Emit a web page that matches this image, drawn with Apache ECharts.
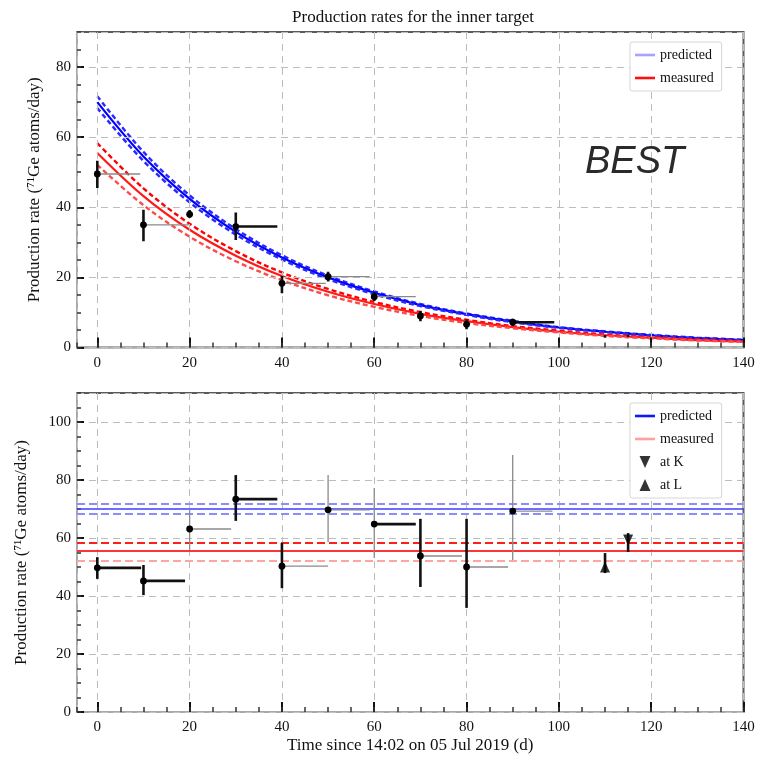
<!DOCTYPE html>
<html>
<head>
<meta charset="utf-8">
<script src="https://cdn.jsdelivr.net/npm/echarts@6/dist/echarts.min.js"></script>
<style>
html, body { margin: 0; padding: 0; background: #fff; }
#chart { width: 758px; height: 758px; }
</style>
</head>
<body>
<div id="chart"></div>
<script>
// Decay curves of the production rate (atoms/day) sampled every 10 days
const curveDays = [0, 10, 20, 30, 40, 50, 60, 70, 80, 90, 100, 110, 120, 130, 140];
const predictedUpper = [71.7, 55.8, 43.4, 33.8, 26.3, 20.5, 16.0, 12.4, 9.7, 7.6, 5.8, 4.6, 3.6, 2.8, 2.2];
const predictedMid   = [70.0, 54.5, 42.4, 33.0, 25.7, 20.0, 15.6, 12.1, 9.5, 7.4, 5.7, 4.5, 3.5, 2.7, 2.1];
const predictedLower = [68.3, 53.2, 41.4, 32.2, 25.1, 19.5, 15.2, 11.8, 9.3, 7.2, 5.6, 4.4, 3.4, 2.6, 2.0];
const measuredUpper  = [58.3, 45.4, 35.3, 27.5, 21.4, 16.7, 13.0, 10.1, 7.9, 6.1, 4.8, 3.7, 2.9, 2.3, 1.8];
const measuredMid    = [55.5, 43.2, 33.6, 26.2, 20.4, 15.9, 12.4, 9.6, 7.5, 5.8, 4.5, 3.5, 2.8, 2.1, 1.7];
const measuredLower  = [52.1, 40.6, 31.6, 24.6, 19.2, 14.9, 11.6, 9.0, 7.0, 5.5, 4.3, 3.3, 2.6, 2.0, 1.6];

// Extractions: start day, end of exposure, rates
const extractionDay = [0, 10, 20, 30, 40, 50, 60, 70, 80, 90, 110, 115];
const exposureEnd   = [9.5, 19, 29, 39, 50, 59, 69, 79, 89, 98.6, 110, 115];

// Upper panel: rate at the extraction time
const rateAtTime = [49.5, 35.0, 38.0, 34.5, 18.3, 20.2, 14.5, 9.0, 6.6, 7.2, 3.2, 3.3];
const rateAtTimeLo = [45.5, 30.3, 37.0, 30.7, 15.5, 18.8, 13.3, 7.5, 5.2, 6.2, 2.8, 3.0];
const rateAtTimeHi = [53.3, 39.3, 39.2, 38.5, 20.5, 21.6, 15.7, 10.5, 8.0, 8.2, 3.6, 3.6];
const rateAtTimeBinEnd = [9.3, 19.8, 20, 39, 49.5, 59, 69, 70, 80, 99, 110, 115];

// Lower panel: rate referred back to day 0
const rateAtStart   = [49.7, 45.2, 63.1, 73.4, 50.3, 69.7, 64.8, 53.8, 50.0, 69.3, 50.0, 59.3];
const rateAtStartLo = [45.9, 40.3, 55.9, 65.9, 42.7, 58.6, 53.1, 43.1, 35.9, 52.4, 47.9, 55.2];
const rateAtStartHi = [53.4, 50.7, 69.6, 81.7, 58.3, 81.7, 77.2, 66.6, 66.6, 88.6, 54.8, 61.7];

// Constant levels at day 0
const predictedLevel = [71.7, 70.0, 68.3];
const measuredLevel  = [58.3, 55.5, 52.1];

// Which extractions were taken at K and at L
const extractionsK = [115];
const extractionsL = [110];

// Drawing weight of each error bar: 1 = heavy black, 0 = light grey
const upperVBold = [1, 1, 1, 1, 1, 1, 1, 1, 1, 1, 1, 1];
const upperHBold = [0, 0, 1, 1, 0, 0, 0, 0, 0, 1, 1, 1];
const lowerVBold = [1, 1, 0, 1, 1, 0, 0, 1, 1, 0, 1, 1];
const lowerHBold = [1, 1, 0, 1, 0, 0, 1, 0, 0, 0, 1, 1];

const SERIF = '"Liberation Serif", "DejaVu Serif", serif';

function pairs(xs, ys) { return xs.map((x, i) => [x, ys[i]]); }

function errorRows(rate, lo, hi, binEnd) {
  return extractionDay.map((d, i) => [d, rate[i], binEnd[i], lo[i], hi[i]]);
}

function errorRenderer(vBold, hBold) {
  return function (params, api) {
    const i = params.dataIndex;
    const x = api.value(0), y = api.value(1), xe = api.value(2), lo = api.value(3), hi = api.value(4);
    const p = api.coord([x, y]);
    const pe = api.coord([xe, y]);
    const pl = api.coord([x, lo]);
    const ph = api.coord([x, hi]);
    const heavy = { stroke: '#111', lineWidth: 2.6 };
    const light = { stroke: '#8a8a8a', lineWidth: 1.3 };
    const children = [];
    if (xe > x) {
      children.push({ type: 'line', shape: { x1: p[0], y1: p[1], x2: pe[0], y2: pe[1] },
        style: hBold[i] ? heavy : light });
    }
    children.push({ type: 'line', shape: { x1: pl[0], y1: pl[1], x2: ph[0], y2: ph[1] },
      style: vBold[i] ? heavy : light });
    const day = extractionDay[i];
    if (extractionsK.indexOf(day) < 0 && extractionsL.indexOf(day) < 0) {
      children.push({ type: 'circle', shape: { cx: p[0], cy: p[1], r: 3.4 }, style: { fill: '#000' } });
    }
    return { type: 'group', children };
  };
}

function pick(days, values) {
  return days.map(d => [d, values[extractionDay.indexOf(d)]]);
}

const X_MIN = -4.4, X_MAX = 140;

function xAxes(grid, withLabels) {
  return [
    {
      type: 'value', gridIndex: grid, position: 'bottom', min: X_MIN, max: X_MAX,
      splitNumber: 7, minInterval: 20, maxInterval: 20,
      axisLine: { show: true, onZero: false, lineStyle: { color: '#c4c4c4', width: 1.5 } },
      axisTick: { show: true, inside: true, length: 10, lineStyle: { color: '#111', width: 2 } },
      axisLabel: {
        show: true, showMinLabel: false, margin: 8, fontFamily: SERIF, fontSize: 15, color: '#111',
        formatter: v => (Math.abs(v % 20) < 1e-6 ? String(v) : '')
      },
      splitLine: { show: true, lineStyle: { color: '#bdbdbd', width: 1, type: [7, 5] } },
      name: withLabels ? 'Time since 14:02 on 05 Jul 2019 (d)' : '',
      nameLocation: 'middle', nameGap: 25,
      nameTextStyle: { fontFamily: SERIF, fontSize: 17, color: '#111' },
      z: 3
    },
    {
      type: 'value', gridIndex: grid, position: 'bottom', min: X_MIN, max: X_MAX,
      splitNumber: 29, minInterval: 5, maxInterval: 5,
      axisLine: { show: false, onZero: false },
      axisTick: { show: true, inside: true, length: 5, lineStyle: { color: '#333', width: 1.5 } },
      axisLabel: { show: false },
      splitLine: { show: false },
      z: 3
    }
  ];
}

function yAxes(grid, max, nameGap) {
  return [
    {
      type: 'value', gridIndex: grid, position: 'left', min: 0, max: max, interval: 20,
      axisLine: { show: true, onZero: false, lineStyle: { color: '#c4c4c4', width: 1.5 } },
      axisTick: { show: true, inside: true, length: 7, lineStyle: { color: '#111', width: 2 } },
      axisLabel: { show: true, showMaxLabel: false, margin: 6, fontFamily: SERIF, fontSize: 15, color: '#111' },
      splitLine: { show: true, lineStyle: { color: '#bdbdbd', width: 1, type: [7, 5] } },
      name: 'Production rate (\u2077\u00b9Ge atoms/day)',
      nameLocation: 'middle', nameGap: nameGap, nameRotate: 90,
      nameTextStyle: { fontFamily: SERIF, fontSize: 17, color: '#111' },
      z: 3
    },
    {
      type: 'value', gridIndex: grid, position: 'left', min: 0, max: max, interval: 5,
      axisLine: { show: false, onZero: false },
      axisTick: { show: true, inside: true, length: 4, lineStyle: { color: '#333', width: 1.5 } },
      axisLabel: { show: false },
      splitLine: { show: false },
      z: 3
    }
  ];
}

function curve(name, values, color, dashed, width) {
  return {
    type: 'line', name: name, xAxisIndex: 0, yAxisIndex: 0,
    data: pairs(curveDays, values), smooth: 0.35,
    showSymbol: false, symbol: 'none', silent: true,
    lineStyle: { color: color, width: width, type: dashed ? [5, 3] : 'solid' },
    itemStyle: { color: color }, z: 2
  };
}

function level(name, value, color, dashed, width) {
  return {
    type: 'line', name: name, xAxisIndex: 2, yAxisIndex: 2, data: [],
    itemStyle: { color: color },
    markLine: {
      silent: true, symbol: 'none', label: { show: false },
      lineStyle: { color: color, width: width, type: dashed ? [8, 4] : 'solid' },
      data: [{ yAxis: value }]
    },
    z: 2
  };
}

const lineIcon = 'path://M0,0H20V2.6H0Z';
const downTri = 'path://M0,0L10,0L5,11Z';
const upTri = 'path://M5,0L10,11L0,11Z';

const legendBase = {
  orient: 'vertical', left: 630, backgroundColor: '#fff',
  borderColor: '#d6d6d6', borderWidth: 1, borderRadius: 2,
  padding: [6, 8, 6, 5], itemWidth: 20, itemHeight: 12, itemGap: 9,
  textStyle: { fontFamily: SERIF, fontSize: 14, color: '#111' },
  selectedMode: false
};

const option = {
  animation: false,
  backgroundColor: '#fff',
  title: {
    text: 'Production rates for the inner target',
    left: 408, top: 4, textAlign: 'center',
    textStyle: { fontFamily: SERIF, fontSize: 17, fontWeight: 'normal', color: '#111' }
  },
  grid: [
    { left: 77, right: 14.5, top: 32, height: 315.5, show: true, borderColor: '#5a5a5a', borderWidth: 2, backgroundColor: 'transparent' },
    { left: 77, right: 14.5, top: 393, height: 319, show: true, borderColor: '#5a5a5a', borderWidth: 2, backgroundColor: 'transparent' }
  ],
  xAxis: xAxes(0, false).concat(xAxes(1, true)),
  yAxis: yAxes(0, 90, 34).concat(yAxes(1, 110, 47)),
  legend: [
    Object.assign({}, legendBase, {
      top: 42,
      data: [
        { name: 'predicted', icon: lineIcon, itemStyle: { color: '#a4a4ff' } },
        { name: 'measured', icon: lineIcon, itemStyle: { color: '#ff1010' } }
      ]
    }),
    Object.assign({}, legendBase, {
      top: 403,
      data: [
        { name: 'predicted', icon: lineIcon, itemStyle: { color: '#1414ff' } },
        { name: 'measured', icon: lineIcon, itemStyle: { color: '#ffa0a0' } },
        { name: 'at K', icon: downTri, itemStyle: { color: '#000' } },
        { name: 'at L', icon: upTri, itemStyle: { color: '#000' } }
      ]
    })
  ],
  graphic: [
    {
      type: 'text', left: 585, top: 143, z: 10,
      style: { text: 'BEST', fill: '#2a2a2a', font: 'italic 38px "Liberation Sans", Arial, sans-serif' }
    }
  ],
  series: [
    // upper panel: decay curves
    curve('', predictedUpper, '#2a2aff', true, 2.4),
    curve('predicted', predictedMid, '#0000ff', false, 2.2),
    curve('', predictedLower, '#2a2aff', true, 2.4),
    curve('', measuredUpper, '#ff0000', true, 2.4),
    curve('measured', measuredMid, '#ff1a1a', false, 2.2),
    curve('', measuredLower, '#ff4a4a', true, 2.4),
    {
      type: 'custom', name: '', xAxisIndex: 0, yAxisIndex: 0, clip: true, silent: true,
      renderItem: errorRenderer(upperVBold, upperHBold),
      data: errorRows(rateAtTime, rateAtTimeLo, rateAtTimeHi, rateAtTimeBinEnd), z: 5
    },
    // lower panel: levels at day 0
    level('', predictedLevel[0], '#8c8cff', true, 2),
    level('predicted', predictedLevel[1], '#3c3cff', false, 1.6),
    level('', predictedLevel[2], '#8c8cff', true, 2),
    level('', measuredLevel[0], '#ff1e1e', true, 2),
    level('measured', measuredLevel[1], '#ff3434', false, 2),
    level('', measuredLevel[2], '#ffa4a4', true, 2.2),
    {
      type: 'custom', name: '', xAxisIndex: 2, yAxisIndex: 2, clip: true, silent: true,
      renderItem: errorRenderer(lowerVBold, lowerHBold),
      data: errorRows(rateAtStart, rateAtStartLo, rateAtStartHi, exposureEnd), z: 5
    },
    {
      type: 'scatter', name: 'at K', xAxisIndex: 2, yAxisIndex: 2, silent: true,
      symbol: downTri, symbolSize: [10, 11], itemStyle: { color: '#000' },
      data: pick(extractionsK, rateAtStart), z: 6
    },
    {
      type: 'scatter', name: 'at L', xAxisIndex: 2, yAxisIndex: 2, silent: true,
      symbol: upTri, symbolSize: [10, 11], itemStyle: { color: '#000' },
      data: pick(extractionsL, rateAtStart), z: 6
    }
  ]
};

const chart = echarts.init(document.getElementById('chart'), null, { renderer: 'canvas' });
chart.setOption(option);
</script>
</body>
</html>
